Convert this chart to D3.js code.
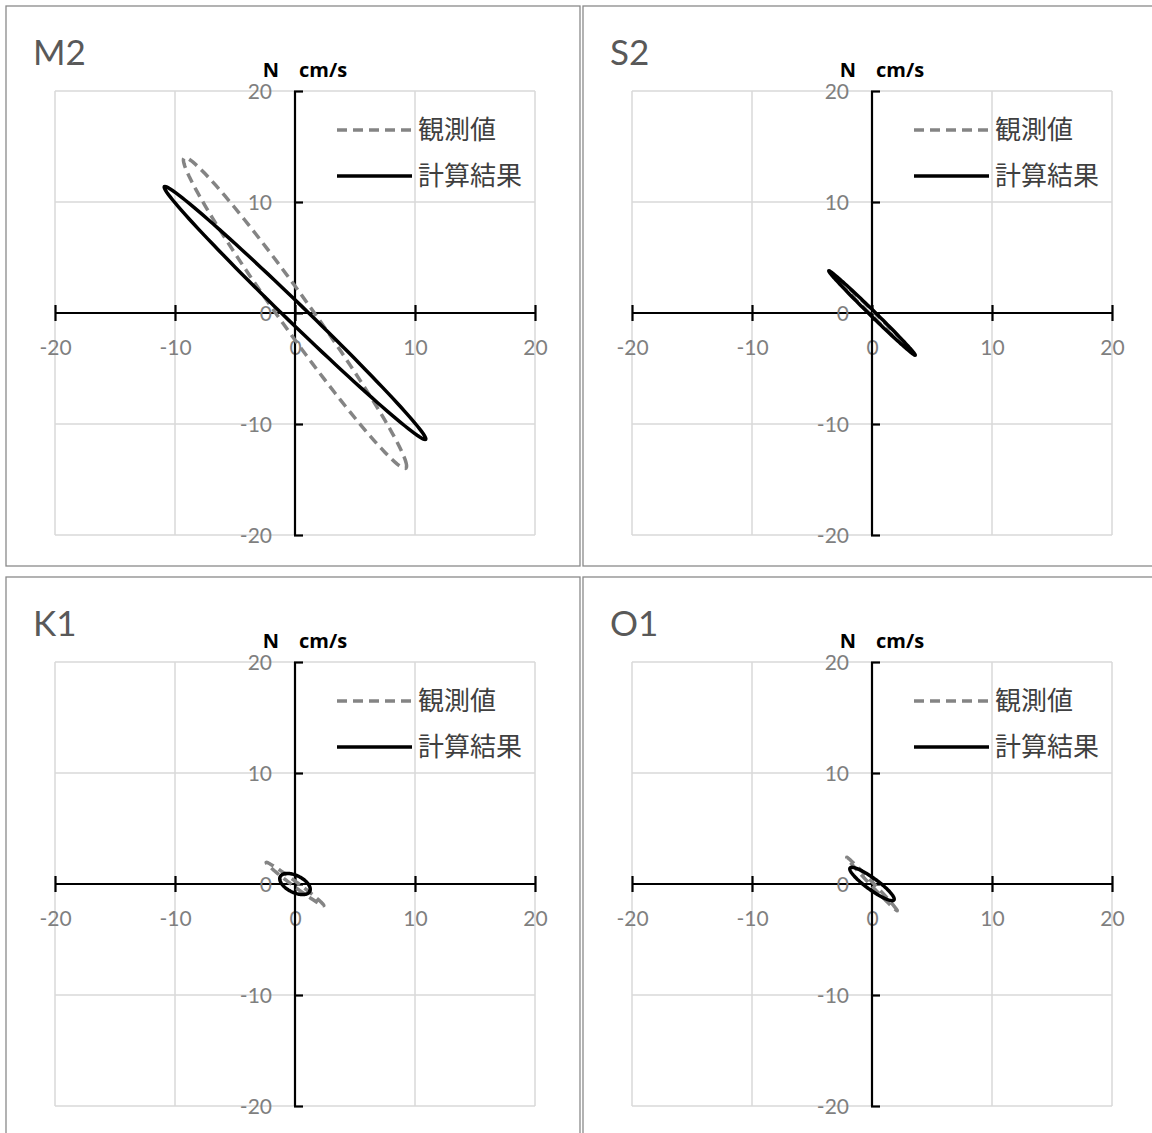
<!DOCTYPE html>
<html><head><meta charset="utf-8">
<script src="https://cdn.jsdelivr.net/npm/d3@7"></script>
<style>body{margin:0;background:#fff}svg{display:block}</style>
</head><body>
<svg id="c" width="1152" height="1133"></svg>
<script>
// Tidal constituents
const constituents = ["M2", "S2", "K1", "O1"];
// Observed (観測値): east (u) and north (v) amplitude [cm/s], phase [deg]
const obsUAmp   = [9.3, 3.4, 2.4, 2.1];
const obsUPhase = [0, 0, 0, 0];
const obsVAmp   = [14.0, 3.6, 1.95, 2.4];
const obsVPhase = [170, 176, 172, 175];
// Computed (計算結果)
const calcUAmp   = [10.9, 3.6, 1.27, 1.85];
const calcUPhase = [0, 0, 0, 0];
const calcVAmp   = [11.4, 3.8, 0.95, 1.5];
const calcVPhase = [174, 175, 120, 155];
const axisTicks = [-20, -10, 0, 10, 20];
const tickLabels = ["-20", "-10", "0", "10", "20"];
const legendLabels = ["観測値", "計算結果"];
const unitLabel = ["N", "cm/s"];

const svg = d3.select("#c");
const offsets = [[0,0],[577,0],[0,571],[577,571]];
const x = d3.scaleLinear().domain([-20, 20]).range([55, 535]);
const y = d3.scaleLinear().domain([-20, 20]).range([535, 91]);
const phaseAngles = d3.range(0, 360, 3);
const fmt = d => tickLabels[axisTicks.indexOf(d)];

function ellipsePts(uA, uP, vA, vP) {
  const r = Math.PI / 180;
  return phaseAngles.map(t => [uA * Math.cos((t - uP) * r), vA * Math.cos((t - vP) * r)]);
}
const line = d3.line().x(d => x(d[0])).y(d => y(d[1])).curve(d3.curveLinearClosed);

constituents.forEach((name, i) => {
  const [dx, dy] = offsets[i];
  const g = svg.append("g").attr("transform", `translate(${dx},${dy})`);
  // panel border
  g.append("rect").attr("x", 6).attr("y", 6).attr("width", 574).attr("height", 560)
    .attr("fill", "#fff").attr("stroke", "#8a8a8a").attr("stroke-width", 1.3);
  // grid
  g.selectAll(".gx").data(axisTicks).join("line")
    .attr("x1", d => x(d)).attr("x2", d => x(d)).attr("y1", y(20)).attr("y2", y(-20))
    .attr("stroke", "#d9d9d9").attr("stroke-width", 1.5);
  g.selectAll(".gy").data(axisTicks).join("line")
    .attr("y1", d => y(d)).attr("y2", d => y(d)).attr("x1", x(-20)).attr("x2", x(20))
    .attr("stroke", "#d9d9d9").attr("stroke-width", 1.5);
  // title
  g.append("text").attr("x", 33).attr("y", 65).text(name)
    .attr("font-family", "Lato, 'Open Sans', sans-serif").attr("font-size", 35).attr("fill", "#595959");
  // unit label
  g.append("text").attr("x", 271).attr("y", 77).attr("text-anchor", "middle").text(unitLabel[0])
    .attr("font-family", "'Open Sans', 'Noto Sans', sans-serif").attr("font-weight", "bold").attr("font-size", 20).attr("fill", "#000");
  g.append("text").attr("x", 299).attr("y", 77).text(unitLabel[1])
    .attr("font-family", "'Open Sans', 'Noto Sans', sans-serif").attr("font-weight", "bold").attr("font-size", 20).attr("fill", "#000");

  // x axis
  const xa = g.append("g").attr("transform", `translate(0,${y(0)})`)
    .call(d3.axisBottom(x).tickValues(axisTicks).tickSize(8).tickFormat(fmt));
  xa.select(".domain").attr("stroke", "#000").attr("stroke-width", 2.2).attr("d", `M${x(-20)},0H${x(20)}`);
  xa.selectAll(".tick line").attr("y1", -8).attr("y2", 8).attr("stroke", "#000").attr("stroke-width", 2.2);
  xa.selectAll(".tick text").attr("y", 34).attr("dy", "0.36em")
    .attr("font-family", "Lato, sans-serif").attr("font-size", 21).attr("fill", "#7f7f7f");
  // y axis
  const ya = g.append("g").attr("transform", `translate(${x(0)},0)`)
    .call(d3.axisLeft(y).tickValues(axisTicks).tickSize(8).tickFormat(fmt));
  ya.select(".domain").attr("stroke", "#000").attr("stroke-width", 2.2).attr("d", `M0,${y(20)}V${y(-20)}`);
  ya.selectAll(".tick line").attr("x1", -1).attr("x2", 8).attr("stroke", "#000").attr("stroke-width", 2.2);
  ya.selectAll(".tick text").attr("x", -23).attr("dy", "0.36em")
    .attr("font-family", "Lato, sans-serif").attr("font-size", 21).attr("fill", "#7f7f7f");

  // ellipses
  g.append("path").datum(ellipsePts(obsUAmp[i], obsUPhase[i], obsVAmp[i], obsVPhase[i]))
    .attr("d", line).attr("fill", "none").attr("stroke", "#848484").attr("stroke-width", 3.5)
    .attr("stroke-dasharray", "10,6");
  g.append("path").datum(ellipsePts(calcUAmp[i], calcUPhase[i], calcVAmp[i], calcVPhase[i]))
    .attr("d", line).attr("fill", "none").attr("stroke", "#000").attr("stroke-width", 3.5);

  // legend
  g.append("line").attr("x1", 337).attr("x2", 412).attr("y1", 130).attr("y2", 130)
    .attr("stroke", "#848484").attr("stroke-width", 3.5).attr("stroke-dasharray", "10,6");
  g.append("line").attr("x1", 337).attr("x2", 412).attr("y1", 176).attr("y2", 176)
    .attr("stroke", "#000").attr("stroke-width", 3.5);
  legendLabels.forEach((lab, k) => {
    g.append("text").attr("x", 418).attr("y", 130 + k * 46).attr("dy", "0.36em").text(lab)
      .attr("font-family", "'Noto Sans CJK JP', sans-serif").attr("font-size", 26).attr("fill", "#404040");
  });
});
</script>
</body></html>
